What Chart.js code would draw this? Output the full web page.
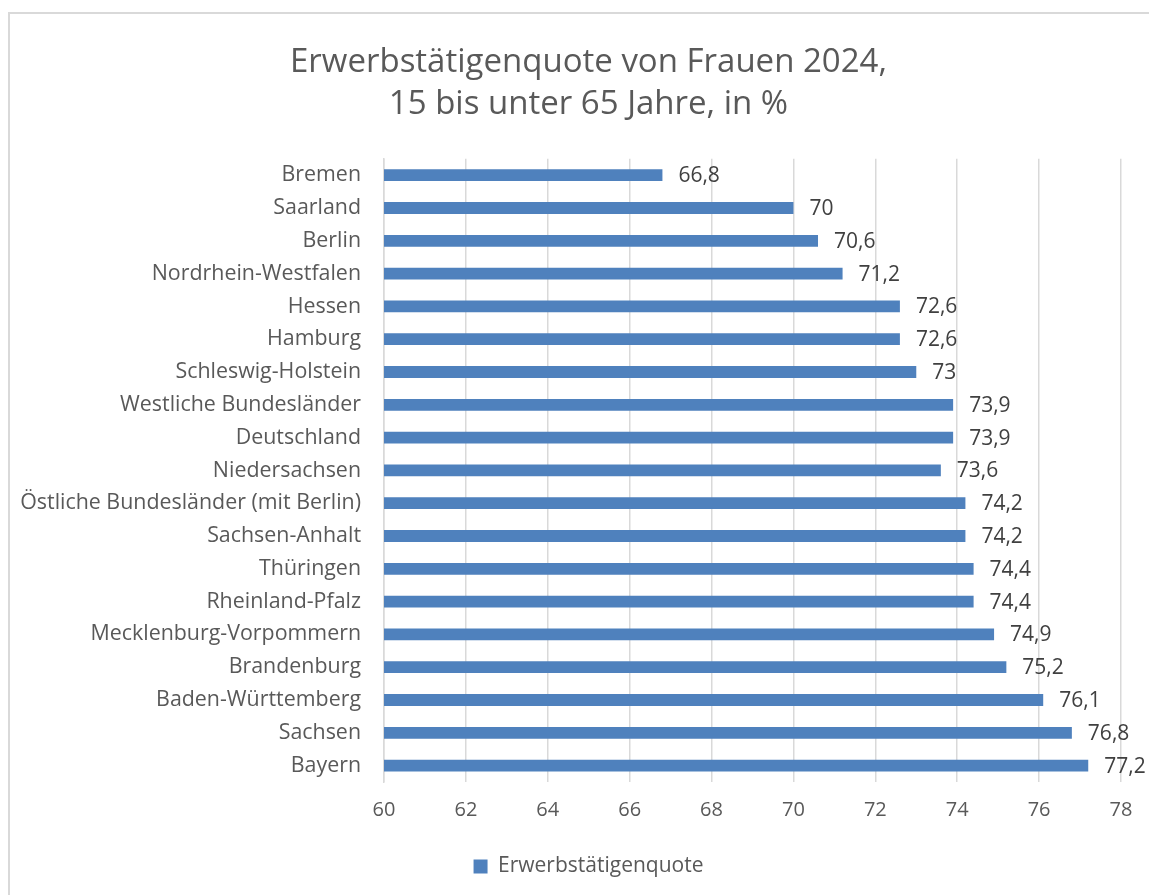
<!DOCTYPE html>
<html>
<head>
<meta charset="utf-8">
<script src="https://cdn.jsdelivr.net/npm/chart.js@4/dist/chart.umd.min.js"></script>
<style>
  body { margin: 0; background: #fff; overflow: hidden; }
  .frame {
    position: absolute; left: 8px; top: 12px; width: 1200px; height: 950px;
    border-left: 2px solid #d9d9d9; border-top: 2px solid #d9d9d9;
  }
  canvas { position: absolute; left: 0; top: 0; }
</style>
</head>
<body>
<div class="frame"></div>
<canvas id="myChart" width="1149" height="895"></canvas>
<script>
// data
const laender = [
  "Bremen", "Saarland", "Berlin", "Nordrhein-Westfalen", "Hessen", "Hamburg",
  "Schleswig-Holstein", "Westliche Bundesländer", "Deutschland", "Niedersachsen",
  "Östliche Bundesländer (mit Berlin)", "Sachsen-Anhalt", "Thüringen",
  "Rheinland-Pfalz", "Mecklenburg-Vorpommern", "Brandenburg",
  "Baden-Württemberg", "Sachsen", "Bayern"
];
const quote = [66.8, 70, 70.6, 71.2, 72.6, 72.6, 73, 73.9, 73.9, 73.6, 74.2, 74.2, 74.4, 74.4, 74.9, 75.2, 76.1, 76.8, 77.2];
const xTicks = [60, 62, 64, 66, 68, 70, 72, 74, 76, 78];
const serienName = "Erwerbstätigenquote";
const titel = ["Erwerbstätigenquote von Frauen 2024,", "15 bis unter 65 Jahre, in %"];

const barColor = "#4f81bd";
const textColor = "#595959";

Chart.defaults.font.family = "'Open Sans', sans-serif";
Chart.defaults.font.size = 21;
Chart.defaults.color = textColor;

// value labels at the bar ends
const valueLabels = {
  id: "valueLabels",
  afterDatasetsDraw(chart) {
    const ctx = chart.ctx;
    const meta = chart.getDatasetMeta(0);
    ctx.save();
    ctx.font = "21px 'Open Sans', sans-serif";
    ctx.fillStyle = "#404040";
    ctx.textBaseline = "middle";
    ctx.textAlign = "left";
    meta.data.forEach((bar, i) => {
      ctx.fillText(String(quote[i]).replace(".", ","), bar.x + 16, bar.y + 1);
    });
    ctx.restore();
  },
};

// y labels are clipped to the scale box, so let the box reach the canvas edge
const widenYAxis = {
  id: "widenYAxis",
  afterLayout(chart) {
    chart.scales.y.left = 0;
  },
};

const ctx = document.getElementById("myChart").getContext("2d");

// left padding keeps title + legend centred on the (wider) chart frame
const padLeft = 56;

new Chart(ctx, {
  type: "bar",
  data: {
    labels: laender,
    datasets: [
      {
        label: serienName,
        data: quote,
        backgroundColor: barColor,
        borderWidth: 0,
        categoryPercentage: 1,
        barPercentage: 0.36,
      },
    ],
  },
  options: {
    indexAxis: "y",
    responsive: false,
    animation: false,
    layout: {
      padding: { top: 0, right: 28, bottom: 8, left: padLeft },
    },
    plugins: {
      title: {
        display: true,
        text: titel,
        color: textColor,
        font: { size: 33, weight: "normal", lineHeight: 1.27 },
        padding: { top: 42, bottom: 33 },
      },
      legend: {
        position: "bottom",
        labels: {
          boxWidth: 14,
          boxHeight: 14,
          color: textColor,
          font: { size: 21 },
          padding: 10,
        },
      },
      tooltip: { enabled: false },
    },
    scales: {
      x: {
        min: xTicks[0],
        max: xTicks[xTicks.length - 1],
        afterBuildTicks: (scale) => {
          scale.ticks = xTicks.map((v) => ({ value: v }));
        },
        afterFit: (scale) => {
          scale.height = 64;
        },
        grid: {
          color: "#d9d9d9",
          lineWidth: 1.5,
          drawTicks: false,
        },
        border: { display: false },
        ticks: { padding: 16, color: textColor, font: { size: 20 } },
      },
      y: {
        afterFit: (scale) => {
          scale.width = 384 - padLeft;
        },
        grid: { display: false, drawTicks: false },
        border: { display: true, color: "#d9d9d9", width: 1.5 },
        ticks: { padding: 23, color: textColor, autoSkip: false, font: { size: 21.4 } },
      },
    },
  },
  plugins: [valueLabels, widenYAxis],
});
</script>
</body>
</html>
